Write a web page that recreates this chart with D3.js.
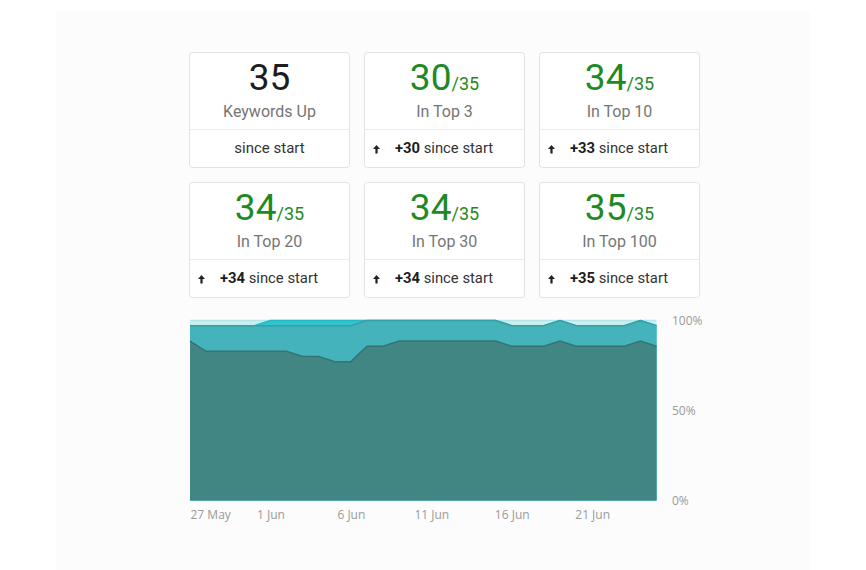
<!DOCTYPE html>
<html>
<head>
<meta charset="utf-8">
<script src="https://cdn.jsdelivr.net/npm/d3@7"></script>
<style>
  body { margin: 0; background: #fff; }
  svg { display: block; }
</style>
</head>
<body>
<div id="chart"></div>
<script>
// card values
const total = 35;
const cardValues = [35, 30, 34, 34, 34, 35];
const cardLabels = ["Keywords Up", "In Top 3", "In Top 10", "In Top 20", "In Top 30", "In Top 100"];
const cardDeltas = [null, 30, 33, 34, 34, 35];

// daily history, 27 May .. 25 Jun (keywords out of 35)
const startDate = new Date(2017, 4, 27);
const top3   = [31,29,29,29,29,29,29,28,28,27,27,30,30,31,31,31,31,31,31,31,30,30,30,31,30,30,30,30,31,30];
const top10  = [34,34,34,34,34,34,34,34,34,34,34,35,35,35,35,35,35,35,35,35,34,34,34,35,34,34,34,34,35,34];
const top20  = [34,34,34,34,34,35,35,35,35,35,35,35,35,35,35,35,35,35,35,35,34,34,34,35,34,34,34,34,35,34];
const top100 = [35,35,35,35,35,35,35,35,35,35,35,35,35,35,35,35,35,35,35,35,35,35,35,35,35,35,35,35,35,35];
const xTickLabels = ["27 May", "1 Jun", "6 Jun", "11 Jun", "16 Jun", "21 Jun"];
const yTickValues = [0, 50, 100];

const width = 866, height = 570;
const green = "#1f8a24";

const svg = d3.select("#chart").append("svg")
    .attr("width", width)
    .attr("height", height);

// faint page panel
svg.append("rect")
    .attr("x", 56).attr("y", 11)
    .attr("width", 754).attr("height", 560)
    .attr("fill", "#fcfcfc");

// ---- stat cards ----
const cardW = 160, cardH = 115, colPitch = 175, rowPitch = 130;
const cardsLeft = 189, cardsTop = 52;

const cards = svg.append("g").selectAll("g")
    .data(cardValues.map(function(v, i) {
        return {value: v, label: cardLabels[i], delta: cardDeltas[i], i: i};
    }))
    .join("g")
    .attr("transform", function(d) {
        return "translate(" + (cardsLeft + (d.i % 3) * colPitch) + "," + (cardsTop + Math.floor(d.i / 3) * rowPitch) + ")";
    });

cards.append("rect")
    .attr("x", 0.5).attr("y", 0.5)
    .attr("width", cardW).attr("height", cardH)
    .attr("rx", 3)
    .attr("fill", "#fff")
    .attr("stroke", "#e2e2e2");

cards.append("line")
    .attr("x1", 1).attr("x2", cardW)
    .attr("y1", 77.5).attr("y2", 77.5)
    .attr("stroke", "#ececec");

const bigText = cards.append("text")
    .attr("x", cardW / 2 + 0.5)
    .attr("y", 37.5)
    .attr("text-anchor", "middle")
    .style("font-family", "Roboto, sans-serif");

bigText.append("tspan")
    .attr("font-size", 37)
    .attr("fill", function(d) { return d.i === 0 ? "#1d1d1d" : green; })
    .text(function(d) { return d.value; });

bigText.filter(function(d) { return d.i !== 0; })
    .append("tspan")
    .attr("font-size", 18)
    .attr("fill", green)
    .text("/" + total);

cards.append("text")
    .attr("x", cardW / 2 + 0.5)
    .attr("y", 64.5)
    .attr("text-anchor", "middle")
    .attr("font-size", 16)
    .attr("fill", "#757575")
    .style("font-family", "Roboto, sans-serif")
    .text(function(d) { return d.label; });

// bottom row: "since start"
cards.filter(function(d) { return d.delta === null; })
    .append("text")
    .attr("x", cardW / 2 + 0.5)
    .attr("y", 101)
    .attr("text-anchor", "middle")
    .attr("font-size", 15)
    .attr("fill", "#333")
    .style("font-family", "Roboto, sans-serif")
    .text("since start");

const withDelta = cards.filter(function(d) { return d.delta !== null; });

withDelta.append("path")
    .attr("transform", "translate(9,93)")
    .attr("d", "M0,4 L3.5,0 L7,4 L4.6,4 L4.6,8.5 L2.4,8.5 L2.4,4 Z")
    .attr("fill", "#222");

const deltaText = withDelta.append("text")
    .attr("x", 31)
    .attr("y", 101)
    .attr("font-size", 14.8)
    .attr("fill", "#333")
    .style("font-family", "Roboto, sans-serif");

deltaText.append("tspan")
    .attr("font-weight", 700)
    .attr("fill", "#1d1d1d")
    .text(function(d) { return "+" + d.delta; });

deltaText.append("tspan")
    .text(" since start");

// ---- stacked area history ----
const dates = top3.map(function(v, i) { return d3.timeDay.offset(startDate, i); });

const xScale = d3.scaleTime()
    .domain([dates[0], dates[dates.length - 1]])
    .range([190, 656.5]);

const yScale = d3.scaleLinear()
    .domain([0, 100])
    .range([500.5, 320.5]);

const layers = [
    {values: top100, fill: "#c9eff0", stroke: "#b3e7ea"},
    {values: top20,  fill: "#2fc7cf", stroke: "#25b9c1"},
    {values: top10,  fill: "#45b3bb", stroke: "#35a0a8"},
    {values: top3,   fill: "#428684", stroke: "#357472"}
];

const area = d3.area()
    .x(function(d, i) { return xScale(dates[i]); })
    .y0(yScale(0))
    .y1(function(d) { return yScale(d / total * 100); });

const topLine = d3.line()
    .x(function(d, i) { return xScale(dates[i]); })
    .y(function(d) { return yScale(d / total * 100); });

const plot = svg.append("g");

layers.forEach(function(layer) {
    plot.append("path")
        .datum(layer.values)
        .attr("fill", layer.fill)
        .attr("d", area);
    plot.append("path")
        .datum(layer.values)
        .attr("fill", "none")
        .attr("stroke", layer.stroke)
        .attr("stroke-width", 1.5)
        .attr("d", topLine);
});

// y axis on the right
svg.append("g")
    .attr("transform", "translate(672,0)")
    .call(d3.axisRight(yScale)
        .tickValues(yTickValues)
        .tickSize(0)
        .tickPadding(0)
        .tickFormat(function(d) { return d + "%"; }))
    .call(function(g) { g.select(".domain").remove(); })
    .call(function(g) {
        g.selectAll("text")
            .attr("fill", "#9a9a9a")
            .attr("font-size", 12)
            .attr("dy", "0.32em")
            .style("font-family", "'Open Sans', sans-serif");
    });

// x axis
const xTickDates = xTickLabels.map(function(t, i) { return d3.timeDay.offset(startDate, i * 5); });

svg.append("g")
    .attr("transform", "translate(0,510)")
    .call(d3.axisBottom(xScale)
        .tickValues(xTickDates)
        .tickSize(0)
        .tickPadding(0)
        .tickFormat(function(d, i) { return xTickLabels[i]; }))
    .call(function(g) { g.select(".domain").remove(); })
    .call(function(g) {
        g.selectAll("text")
            .attr("fill", "#9a9a9a")
            .attr("font-size", 12)
            .attr("dy", "0.71em")
            .attr("text-anchor", function(d, i) { return i === 0 ? "start" : "middle"; })
            .style("font-family", "'Open Sans', sans-serif");
    });
</script>
</body>
</html>
